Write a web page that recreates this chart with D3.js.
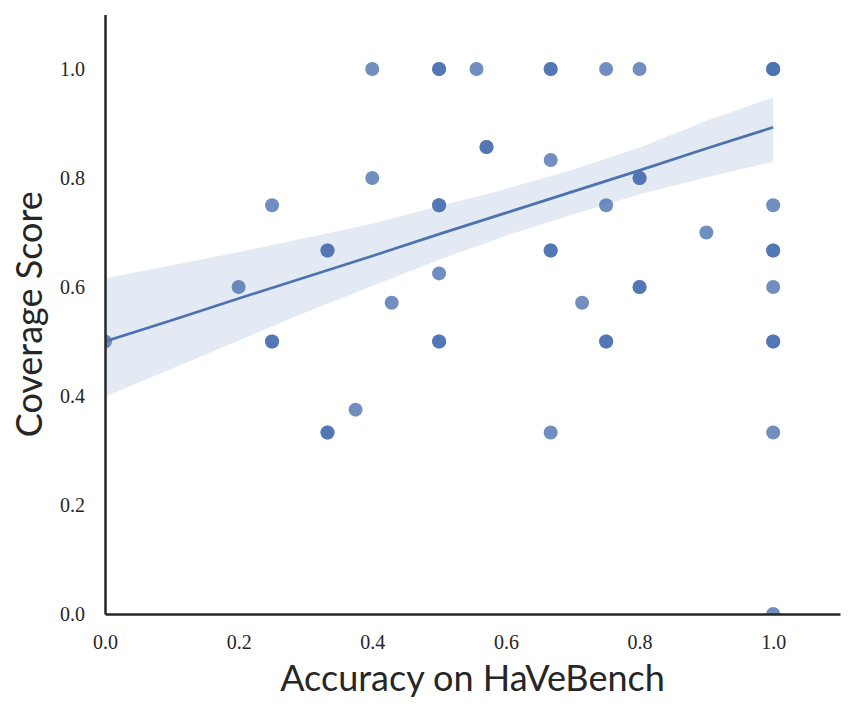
<!DOCTYPE html>
<html lang="en">
<head>
<meta charset="UTF-8">
<title>Coverage vs Accuracy</title>
<script src="https://d3js.org/d3.v7.min.js"></script>
<style>
    body { margin: 0; background: #fff; }
    .tick-label { font-family: "Liberation Serif", "DejaVu Serif", serif; font-size: 20px; fill: #262626; }
    .axis-label { font-family: Lato, "Open Sans", sans-serif; font-size: 36px; fill: #262626; }
</style>
</head>
<body>
<svg width="855" height="711"></svg>
<script>
// scatter points (repeated entries = overlapping points)
const accuracy = [
    0.0, 0.2, 0.25, 0.25, 0.25,
    0.333, 0.333, 0.333, 0.333, 0.375,
    0.4, 0.4, 0.429,
    0.5, 0.5, 0.5, 0.5, 0.5, 0.5, 0.5,
    0.556, 0.571, 0.571,
    0.667, 0.667, 0.667, 0.667, 0.667, 0.667,
    0.714, 0.75, 0.75, 0.75, 0.75,
    0.8, 0.8, 0.8, 0.8, 0.8, 0.9,
    1.0, 1.0, 1.0, 1.0, 1.0, 1.0, 1.0, 1.0, 1.0, 1.0, 1.0
];
const coverage = [
    0.5, 0.6, 0.75, 0.5, 0.5,
    0.667, 0.667, 0.333, 0.333, 0.375,
    1.0, 0.8, 0.571,
    1.0, 1.0, 0.75, 0.75, 0.625, 0.5, 0.5,
    1.0, 0.857, 0.857,
    1.0, 1.0, 0.833, 0.667, 0.667, 0.333,
    0.571, 1.0, 0.75, 0.5, 0.5,
    1.0, 0.8, 0.8, 0.6, 0.6, 0.7,
    1.0, 1.0, 0.75, 0.667, 0.667, 0.6, 0.5, 0.5, 0.333, 0.0, 1.0
];

// regression fit and 95% band
const fitX  = [0.0, 0.1, 0.2, 0.3, 0.4, 0.5, 0.6, 0.7, 0.8, 0.9, 1.0];
const fitY  = [0.500, 0.539, 0.579, 0.618, 0.657, 0.697, 0.736, 0.775, 0.814, 0.854, 0.893];
const bandLo = [0.399, 0.450, 0.502, 0.553, 0.602, 0.650, 0.694, 0.733, 0.770, 0.801, 0.830];
const bandHi = [0.616, 0.640, 0.664, 0.690, 0.716, 0.748, 0.780, 0.815, 0.856, 0.905, 0.948];

const xTicks = [0.0, 0.2, 0.4, 0.6, 0.8, 1.0];
const yTicks = [0.0, 0.2, 0.4, 0.6, 0.8, 1.0];

const color = "#4C72B0";
const svg = d3.select("svg");

const x = d3.scaleLinear().domain([0, 1.1]).range([105, 840]);
const y = d3.scaleLinear().domain([0, 1.1]).range([614, 14.5]);

svg.append("clipPath").attr("id", "plot-clip")
    .append("rect")
    .attr("x", x(0)).attr("y", y(1.1))
    .attr("width", x(1.1) - x(0)).attr("height", y(0) - y(1.1));

const plot = svg.append("g").attr("clip-path", "url(#plot-clip)");

// points
const pts = accuracy.map((a, i) => ({ a, c: coverage[i] }));
plot.selectAll(".pt").data(pts).enter().append("circle")
    .attr("class", "pt")
    .attr("cx", d => x(d.a))
    .attr("cy", d => y(d.c))
    .attr("r", 7)
    .attr("fill", color)
    .attr("fill-opacity", 0.8);

// confidence band
const band = fitX.map((v, i) => ({ x: v, lo: bandLo[i], hi: bandHi[i] }));
plot.append("path")
    .datum(band)
    .attr("fill", color)
    .attr("fill-opacity", 0.15)
    .attr("d", d3.area().x(d => x(d.x)).y0(d => y(d.lo)).y1(d => y(d.hi)));

// regression line
const fit = fitX.map((v, i) => ({ x: v, y: fitY[i] }));
plot.append("path")
    .datum(fit)
    .attr("fill", "none")
    .attr("stroke", color)
    .attr("stroke-width", 2.7)
    .attr("d", d3.line().x(d => x(d.x)).y(d => y(d.y)));

// spines (left and bottom only)
const xAxis = svg.append("g")
    .attr("transform", `translate(0,${y(0)})`)
    .call(d3.axisBottom(x).tickValues(xTicks).tickSize(0).tickFormat(d3.format(".1f")));
const yAxis = svg.append("g")
    .attr("transform", `translate(${x(0)},0)`)
    .call(d3.axisLeft(y).tickValues(yTicks).tickSize(0).tickPadding(20).tickFormat(d3.format(".1f")));

[xAxis, yAxis].forEach(g => {
    g.select(".domain").attr("stroke", "#262626").attr("stroke-width", 2.5);
    g.selectAll("text").attr("class", "tick-label").attr("fill", null);
});
xAxis.selectAll("text").attr("dy", "0.32em").attr("y", 29);

// axis labels
svg.append("text")
    .attr("class", "axis-label")
    .attr("x", (x(0) + x(1.1)) / 2)
    .attr("y", 691)
    .attr("text-anchor", "middle")
    .text("Accuracy on HaVeBench");

svg.append("text")
    .attr("class", "axis-label")
    .attr("transform", `translate(42,${(y(0) + y(1.1)) / 2}) rotate(-90)`)
    .attr("text-anchor", "middle")
    .text("Coverage Score");
</script>
</body>
</html>
